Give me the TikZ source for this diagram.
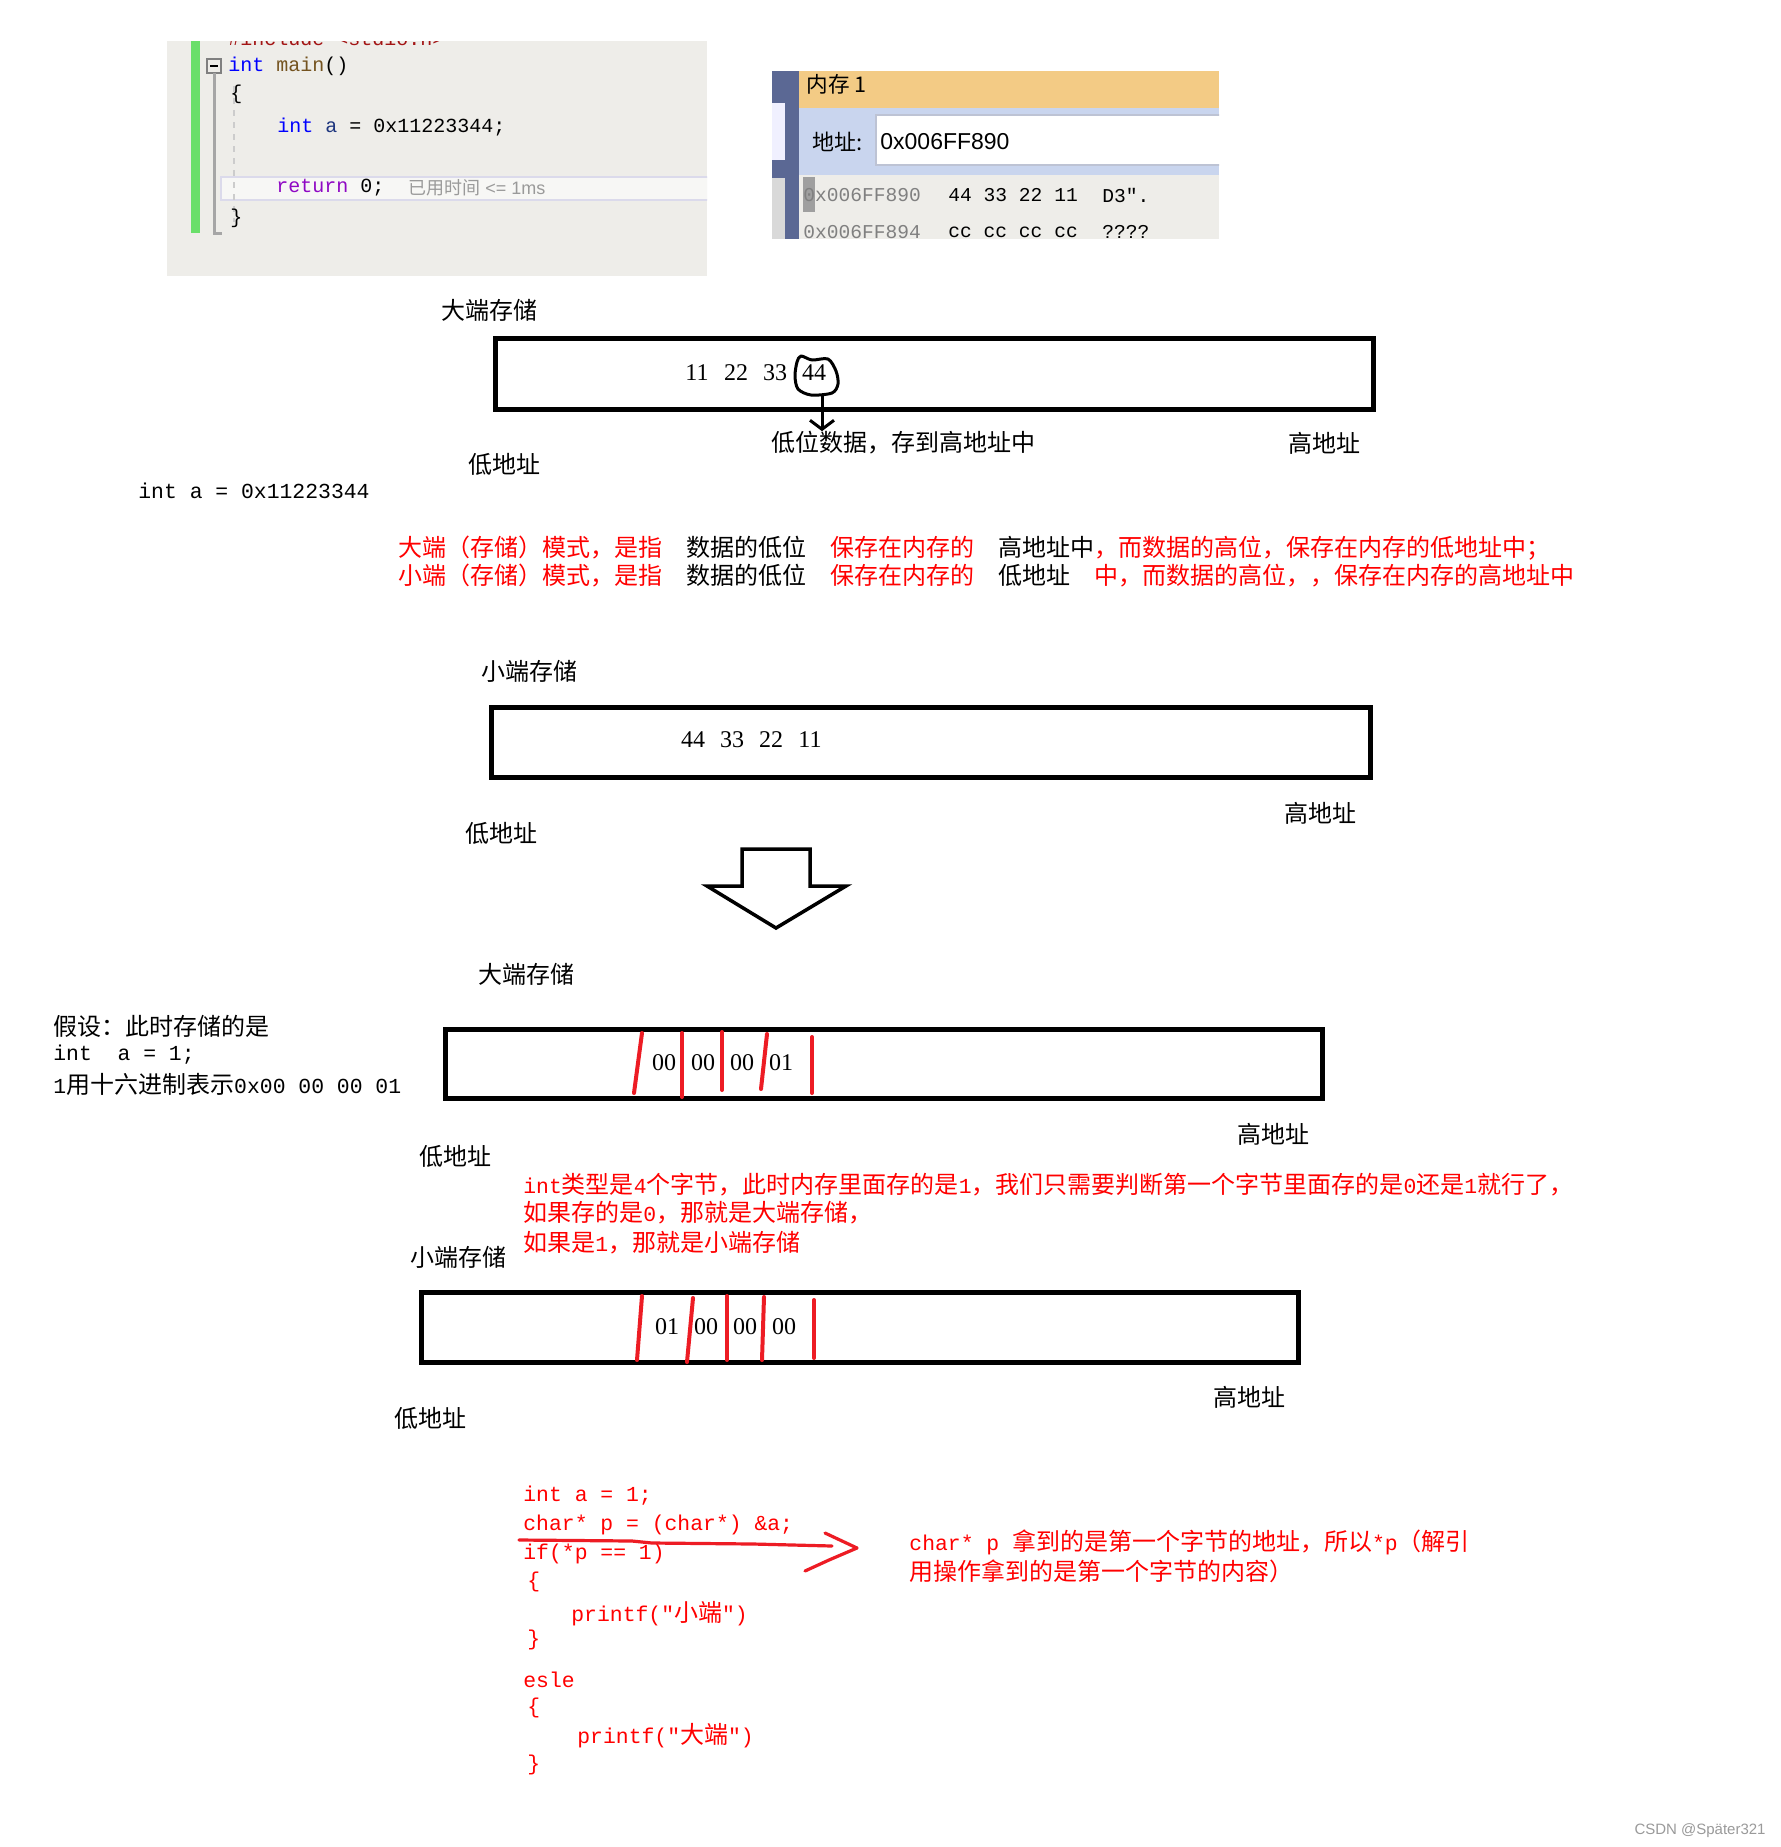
\documentclass[tikz,border=0pt]{standalone}
\usepackage{fontspec}
\usepackage{xcolor}
\usepackage{tikz}
\usetikzlibrary{arrows.meta}
\setmainfont{Noto Sans CJK SC}
\setmonofont{Liberation Mono}
\newfontfamily\numfont{Liberation Serif}
\newfontfamily\uifont{Liberation Sans}
\definecolor{ink}{HTML}{000000}
\definecolor{txtred}{HTML}{FF0000}
\definecolor{penred}{HTML}{ED1C24}
\definecolor{scrbg}{HTML}{EEEDE9}
\definecolor{vsgreen}{HTML}{6ADF6A}
\definecolor{kwblue}{HTML}{0000FF}
\definecolor{fnbrown}{HTML}{74531F}
\definecolor{varblue}{HTML}{1F377F}
\definecolor{kwpurple}{HTML}{8F08C4}
\definecolor{strred}{HTML}{A31515}
\definecolor{hint}{HTML}{9A9A9A}
\definecolor{memtitle}{HTML}{F3CB85}
\definecolor{memband}{HTML}{C9D5EE}
\definecolor{memstrip}{HTML}{5B6894}
\definecolor{addrgray}{HTML}{808080}
\newcommand{\la}[1]{{\fontsize{10.7}{14.5}\ttfamily #1}}
\newcommand{\zhf}[1]{{\fontsize{12}{14.5}\rmfamily #1}}
\tikzset{
  box/.style={draw=ink, line width=2.5pt},
  pen/.style={draw=ink, line width=1.5pt, line cap=round, line join=round},
  redpen/.style={draw=penred, line width=1.6pt, line cap=round, line join=round},
  redbar/.style={draw=penred, line width=2pt, line cap=round},
  zh/.style={font={\fontsize{12}{14.5}\selectfont}, text=ink, inner sep=0pt},
  redzh/.style={zh, text=txtred},
  code/.style={font={\fontsize{10.7}{14.5}\selectfont\ttfamily}, text=ink, inner sep=0pt, anchor=west},
  redcode/.style={code, text=txtred},
  byte/.style={font={\fontsize{12}{14}\selectfont\numfont}, text=ink, inner sep=0pt},
  ide/.style={font={\fontsize{10}{12}\selectfont\ttfamily}, text=ink, inner sep=0pt, anchor=west},
  memrow/.style={font={\fontsize{9.8}{12}\selectfont\ttfamily}, text=ink, inner sep=0pt, anchor=west}
}

\begin{document}
\begin{tikzpicture}[x=0.5pt, y=-0.5pt]
  \fill[white] (0,0) rectangle (1781,1847);
  \useasboundingbox (0,0) rectangle (1781,1847);

  % IDE screenshot
  \begin{scope}
    \clip (167,41) rectangle (707,276);
    \fill[scrbg] (167,41) rectangle (707,276);
    \filldraw[fill=white!55!scrbg, draw=blue!8!scrbg, line width=1pt] (221,177) rectangle (720,200);
    \fill[vsgreen] (191,41) rectangle (200,233);
    \draw[gray, line width=0.8pt] (207,59) rectangle (221,73);
    \draw[ink, line width=0.8pt] (210,66) -- (218,66);
    \draw[gray!70, line width=1.5pt] (214,73) -- (214,233) -- (222,233);
    \draw[gray!40, dashed, line width=0.8pt] (234,86) -- (234,222);
    \node[ide, text=strred] (incl) at (228,38) {\#include <stdio.h>};
    \node[ide] (fn) at (228,66) {{\color{kwblue}int} {\color{fnbrown}main}()};
    \node[ide] (lb1) at (230,94) {\{};
    \node[ide] (decl) at (277,127) {{\color{kwblue}int} {\color{varblue}a} = 0x11223344;};
    \node[ide] (ret) at (276,188) {{\color{kwpurple}return} 0;};
    \node[font={\fontsize{9}{11}\selectfont}, text=hint, anchor=west, inner sep=0pt] (elapsed) at (408,188) {已用时间{\uifont\ <= 1ms}};
    \node[ide] (rb1) at (230,218) {\}};
  \end{scope}

  % memory window screenshot
  \begin{scope}
    \clip (772,71) rectangle (1219,239);
    \fill[memstrip] (772,71) rectangle (799,239);
    \fill[blue!6] (772,103) rectangle (785,160);
    \fill[gray!30] (772,178) rectangle (785,239);
    \fill[memtitle] (799,71) rectangle (1219,108);
    \fill[memband] (799,108) rectangle (1219,175);
    \filldraw[fill=white, draw=memstrip!40, line width=1pt] (876,115) rectangle (1230,165);
    \fill[scrbg] (799,175) rectangle (1219,239);
    \fill[gray!75] (803,177) rectangle (815,212);
    \node[font={\fontsize{10.8}{12}\selectfont}, inner sep=0pt, anchor=west] (memttl) at (806,84) {内存 1};
    \node[font={\fontsize{11}{12}\selectfont}, inner sep=0pt, anchor=west] (addrlbl) at (812,142) {地址:};
    \node[font={\fontsize{11.5}{12}\selectfont\uifont}, inner sep=0pt, anchor=west] (addrval) at (880,142) {0x006FF890};
    \node[memrow, text=addrgray] (row1a) at (803,195) {0x006FF890};
    \node[memrow] (row1b) at (948,195) {44 33 22 11};
    \node[memrow] (row1c) at (1102,195) {D3".};
    \node[memrow, text=addrgray] (row2a) at (803,232) {0x006FF894};
    \node[memrow] (row2b) at (948,232) {cc cc cc cc};
    \node[memrow] (row2c) at (1102,232) {????};
  \end{scope}

  % big endian, 0x11223344
  \node[zh, anchor=west] (tbe1) at (441,310) {大端存储};
  \draw[box] (495,338) rectangle (1373,409);
  \foreach \v [count=\i] in {11,22,33,44}
    \node[byte] (be\i) at ({658+39*\i},373) {\v};
  \draw[pen] plot[smooth cycle] coordinates {(797,362) (801,356) (812,360) (828,359) (836,371) (838,384) (832,393) (811,395) (798,389) (795,376)};
  \coordinate (c44) at (822,395);
  \node[zh, anchor=west] (lowtxt) at (771,443) {低位数据，存到高地址中};
  \draw[pen, -{Straight Barb[length=4.5pt,width=12pt]}] (c44) -- (c44 |- lowtxt.north);
  \node[zh] (hi1) at (1324,443) {高地址};
  \node[zh] (lo1) at (504,464) {低地址};
  \node[code] (decl2) at (138,491) {int a = 0x11223344};

  % the two definitions
  \node[redzh, anchor=west] (mode1) at (398,548) {大端（存储）模式，是指\hspace{1em}\textcolor{ink}{数据的低位}\hspace{1em}保存在内存的\hspace{1em}\textcolor{ink}{高地址中}，而数据的高位，保存在内存的低地址中；};
  \node[redzh, anchor=west] (mode2) at (398,576) {小端（存储）模式，是指\hspace{1em}\textcolor{ink}{数据的低位}\hspace{1em}保存在内存的\hspace{1em}\textcolor{ink}{低地址}\hspace{1em}中，而数据的高位，，保存在内存的高地址中};

  % little endian, 0x11223344
  \node[zh, anchor=west] (tle1) at (481,671) {小端存储};
  \draw[box] (491,707) rectangle (1370,777);
  \foreach \v [count=\i] in {44,33,22,11}
    \node[byte] (le\i) at ({654+39*\i},740) {\v};
  \node[zh] (hi2) at (1320,813) {高地址};
  \node[zh] (lo2) at (501,833) {低地址};

  % hollow arrow
  \draw[ink, line width=1.75pt] (742,849) -- (810,849) -- (810,886) -- (846,886) -- (776,928) -- (707,886) -- (742,886) -- cycle;

  % a = 1, big endian
  \node[zh, anchor=west] (tbe2) at (478,974) {大端存储};
  \node[zh, anchor=west] (hyp1) at (53,1026) {假设：此时存储的是};
  \node[zh, anchor=west] (hyp2) at (53,1055) {\la{int\ \ a = 1;}};
  \node[zh, anchor=west] (hyp3) at (53,1084) {\la{1}用十六进制表示\la{0x00 00 00 01}};
  \draw[box] (445,1029) rectangle (1322,1098);
  \foreach \v [count=\i] in {00,00,00,01}
    \node[byte] (bz\i) at ({625+39*\i},1063) {\v};
  \foreach \xa/\ya/\xb/\yb in {642/1033/634/1093, 682/1033/682/1097, 722/1032/722/1090, 767/1034/761/1089, 812/1037/812/1093}
    \draw[redbar] (\xa,\ya) -- (\xb,\yb);
  \node[zh] (hi3) at (1273,1134) {高地址};
  \node[zh] (lo3) at (455,1156) {低地址};

  % how to test
  \node[redzh, anchor=west] (rule1) at (523,1185) {\la{int}类型是\la{4}个字节，此时内存里面存的是\la{1}，我们只需要判断第一个字节里面存的是\la{0}还是\la{1}就行了，};
  \node[redzh, anchor=west] (rule2) at (523,1213) {如果存的是\la{0}，那就是大端存储，};
  \node[redzh, anchor=west] (rule3) at (523,1243) {如果是\la{1}，那就是小端存储};

  % a = 1, little endian
  \node[zh, anchor=west] (tle2) at (410,1257) {小端存储};
  \draw[box] (421,1292) rectangle (1298,1362);
  \foreach \v [count=\i] in {01,00,00,00}
    \node[byte] (lz\i) at ({628+39*\i},1327) {\v};
  \foreach \xa/\ya/\xb/\yb in {642/1296/637/1360, 693/1298/687/1362, 727/1296/727/1360, 764/1297/762/1360, 814/1300/814/1358}
    \draw[redbar] (\xa,\ya) -- (\xb,\yb);
  \node[zh] (hi4) at (1249,1397) {高地址};
  \node[zh] (lo4) at (430,1418) {低地址};

  % check code
  \foreach \t/\cx/\cy [count=\i] in {
      {int a = 1;}/523/1496,
      {char* p = (char*) \&a;}/523/1525,
      {if(*p == 1)}/523/1554,
      {\{}/527/1582,
      {printf("\zhf{小端}")}/571/1614,
      {\}}/527/1640,
      {esle}/523/1680,
      {\{}/527/1708,
      {printf("\zhf{大端}")}/577/1736,
      {\}}/527/1765}
    \node[redcode] (cl\i) at (\cx,\cy) {\t};

  % pointer arrow
  \coordinate (ptrfrom) at (519,1540);
  \coordinate (ptrtip) at (857,1548);
  \draw[redpen] (ptrfrom) -- (632,1541) -- (652,1543) -- (753,1544) -- (832,1546);
  \draw[redpen] (825,1533) -- (ptrtip) -- (829,1560) -- (805,1571);
  \node[redzh, anchor=west] (expl1) at (909,1542) {\la{char* p }拿到的是第一个字节的地址，所以\la{*p}（解引};
  \node[redzh, anchor=west] (expl2) at (909,1571) {用操作拿到的是第一个字节的内容）};

  \node[font={\fontsize{7.5}{9}\selectfont\uifont}, text=hint, anchor=east, inner sep=0pt] (mark) at (1766,1831) {CSDN @Später321};
\end{tikzpicture}
\end{document}
